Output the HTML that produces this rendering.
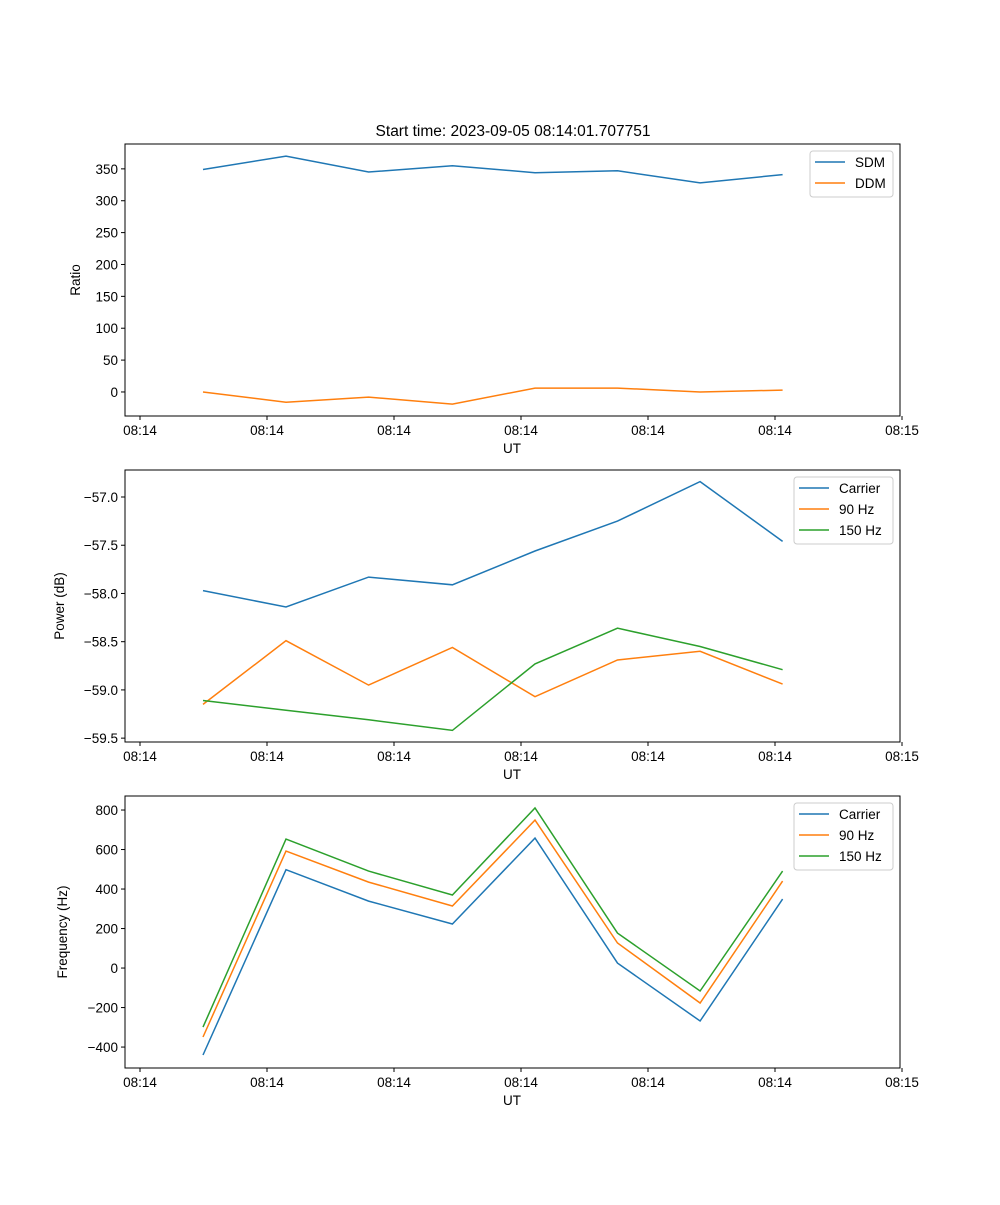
<!DOCTYPE html>
<html><head><meta charset="utf-8"><style>
body{margin:0;background:#fff}
svg text{font-family:"Liberation Sans","DejaVu Sans",sans-serif;font-size:13.5px;fill:#000}
</style></head><body>
<svg id="fig" width="1000" height="1200" viewBox="0 0 1000 1200" xmlns="http://www.w3.org/2000/svg">
<rect width="1000" height="1200" fill="#fff"/>
<text x="513" y="136" text-anchor="middle" style="font-size:15.5px">Start time: 2023-09-05 08:14:01.707751</text>
</svg>
<script>
const times = [4.96, 11.5, 18.0, 24.6, 31.1, 37.6, 44.1, 50.6];
const xTicks = [0, 10, 20, 30, 40, 50, 60];
const xTickLabels = ["08:14","08:14","08:14","08:14","08:14","08:14","08:15"];
const sdm = [349, 370, 345, 355, 344, 347, 328, 341];
const ddm = [0, -16, -8, -19, 6, 6, 0, 3];
const pCarrier = [-57.97, -58.14, -57.83, -57.91, -57.56, -57.25, -56.84, -57.46];
const p90 = [-59.15, -58.49, -58.95, -58.56, -59.07, -58.69, -58.60, -58.94];
const p150 = [-59.11, -59.21, -59.31, -59.42, -58.73, -58.36, -58.55, -58.79];
const fCarrier = [-440, 498, 339, 223, 658, 25, -268, 349];
const f90 = [-349, 592, 435, 314, 749, 127, -177, 440];
const f150 = [-299, 653, 491, 370, 810, 177, -116, 491];
const ratioTicks = [0, 50, 100, 150, 200, 250, 300, 350];
const powerTicks = [-59.5, -59.0, -58.5, -58.0, -57.5, -57.0];
const freqTicks = [-400, -200, 0, 200, 400, 600, 800];

const NS="http://www.w3.org/2000/svg";
const svg=document.getElementById('fig');
function mk(tag,attrs,parent){const e=document.createElementNS(NS,tag);for(const k in attrs)e.setAttribute(k,attrs[k]);(parent||svg).appendChild(e);return e;}
const X0=125,X1=900;
const xScale=v=>140+(v/10)*127;
const colors=['#1f77b4','#ff7f0e','#2ca02c'];

function panel(cfg){
  const g=mk('g',{});
  
  
  const yS=v=>cfg.y1-(v-cfg.ymin)/(cfg.ymax-cfg.ymin)*(cfg.y1-cfg.y0);
  cfg.series.forEach((s,i)=>{
    const pts=times.map((t,j)=>xScale(t).toFixed(1)+','+yS(s.vals[j]).toFixed(1)).join(' ');
    const pl=mk('polyline',{points:pts,fill:'none',stroke:colors[i],'stroke-width':1.5},g);
    
    
  });
  const fr=mk('rect',{x:X0,y:cfg.y0,width:X1-X0,height:cfg.y1-cfg.y0,fill:'none',stroke:'#000','stroke-width':1},g);
  
  
  xTicks.forEach((v,i)=>{
    const x=xScale(v);
    mk('line',{x1:x,x2:x,y1:cfg.y1,y2:cfg.y1+4,stroke:'#000'},g);
    const t=mk('text',{x:x,y:cfg.y1+19,'text-anchor':'middle'},g);t.textContent=xTickLabels[i];
    
    
  });
  cfg.ticks.forEach(v=>{
    const y=yS(v);
    mk('line',{x1:X0-4,x2:X0,y1:y,y2:y,stroke:'#000'},g);
    const t=mk('text',{x:X0-7,y:y+5,'text-anchor':'end'},g);
    t.textContent=(v<0?'\u2212':'')+Math.abs(v).toFixed(cfg.dec);
    
    
  });
  const xl=mk('text',{x:512,y:cfg.y1+37,'text-anchor':'middle'},g);xl.textContent='UT';
  
  
  const yl=mk('text',{x:0,y:0,'text-anchor':'middle',transform:`translate(${cfg.ylx},${(cfg.y0+cfg.y1)/2}) rotate(-90)`},g);yl.textContent=cfg.ylabel;
  
  
  const L=cfg.legend;
  const lg=mk('g',{},g);
  
  
  mk('rect',{x:L.x,y:L.y,width:893-L.x,height:cfg.series.length*21+4,rx:3,fill:'#fff','fill-opacity':0.8,stroke:'#ccc'},lg);
  cfg.series.forEach((s,i)=>{
    const ry=L.y+11+i*21;
    mk('line',{x1:L.x+5,x2:L.x+35,y1:ry,y2:ry,stroke:colors[i],'stroke-width':1.5},lg);
    const t=mk('text',{x:L.x+45,y:ry+5},lg);t.textContent=s.label;
    
    
  });
}
panel({name:'ratio-panel',y0:144,y1:416,ymin:-37.7,ymax:389,ticks:ratioTicks,dec:0,ylabel:'Ratio',ylx:80,
  series:[{key:'sdm',label:'SDM',vals:sdm},{key:'ddm',label:'DDM',vals:ddm}],legend:{x:810,y:151}});
panel({name:'power-panel',y0:470,y1:742,ymin:-59.54,ymax:-56.72,ticks:powerTicks,dec:1,ylabel:'Power (dB)',ylx:64,
  series:[{key:'carrier',label:'Carrier',vals:pCarrier},{key:'90hz',label:'90 Hz',vals:p90},{key:'150hz',label:'150 Hz',vals:p150}],legend:{x:794,y:477}});
panel({name:'frequency-panel',y0:796,y1:1068,ymin:-506,ymax:871,ticks:freqTicks,dec:0,ylabel:'Frequency (Hz)',ylx:67,
  series:[{key:'carrier',label:'Carrier',vals:fCarrier},{key:'90hz',label:'90 Hz',vals:f90},{key:'150hz',label:'150 Hz',vals:f150}],legend:{x:794,y:803}});
</script>
</body></html>
